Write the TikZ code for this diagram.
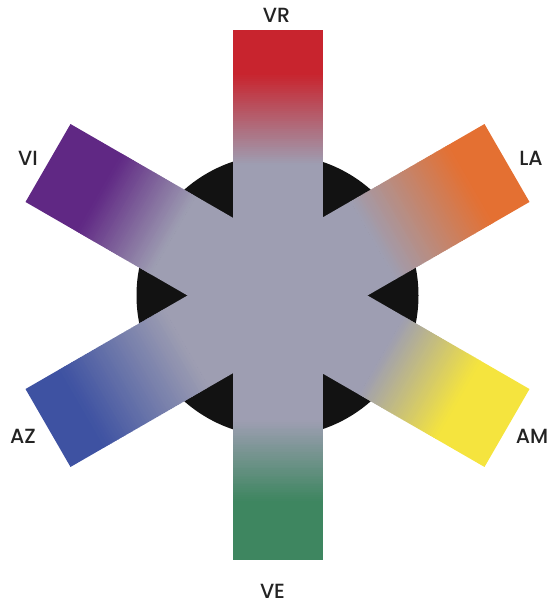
\documentclass[tikz,border=0pt]{standalone}
\usepackage{fontspec}
\setmainfont{Poppins}[UprightFont=* Medium]
\definecolor{cgr}{RGB}{158,158,178}
\definecolor{cvr}{RGB}{200,36,46}
\definecolor{cve}{RGB}{62,134,96}
\definecolor{cla}{RGB}{228,112,50}
\definecolor{cam}{RGB}{245,228,62}
\definecolor{caz}{RGB}{62,82,162}
\definecolor{cvi}{RGB}{96,40,132}
\definecolor{disc}{RGB}{18,18,18}
\definecolor{lab}{RGB}{35,35,35}
\tikzset{lbl/.style={text=lab, font=\fontsize{20.5}{20.5}\selectfont, inner sep=0pt}}
\begin{document}
\begin{tikzpicture}[x=1pt,y=1pt]
\useasboundingbox (0,0) rectangle (549,605);
\fill[disc] (277.5,309.5) circle (141);
\foreach \ang/\col/\p/\q in {90/cvr/130/220, 270/cve/125/205, 30/cla/110/222, 330/cam/120/208, 150/cvi/120/205, 210/caz/105/225} {
  \begin{scope}[shift={(277.5,309.5)}, rotate=\ang]
    \fill[\col] (\q,-45) rectangle (265,45);
    \fill[cgr] (0,-45) rectangle (\p+0.5,45);
    \foreach \i in {0,...,44} {
      \pgfmathsetmacro\xa{\p+\i*(\q-\p)/45}
      \pgfmathsetmacro\xb{\p+(\i+1)*(\q-\p)/45+0.9}
      \pgfmathtruncatemacro\pc{100*(\i+0.5)/45}
      \fill[\col!\pc!cgr] (\xa,-45) rectangle (\xb,45);
    }
  \end{scope}
}
\node[lbl] (vr) at (276.5,589.5) {VR};
\node[lbl] (ve) at (272.5,14) {VE};
\node[lbl] (vi) at (28,447) {VI};
\node[lbl] (la) at (531,447) {LA};
\node[lbl] (az) at (23,169) {AZ};
\node[lbl] (am) at (532,169) {AM};
\end{tikzpicture}
\end{document}
